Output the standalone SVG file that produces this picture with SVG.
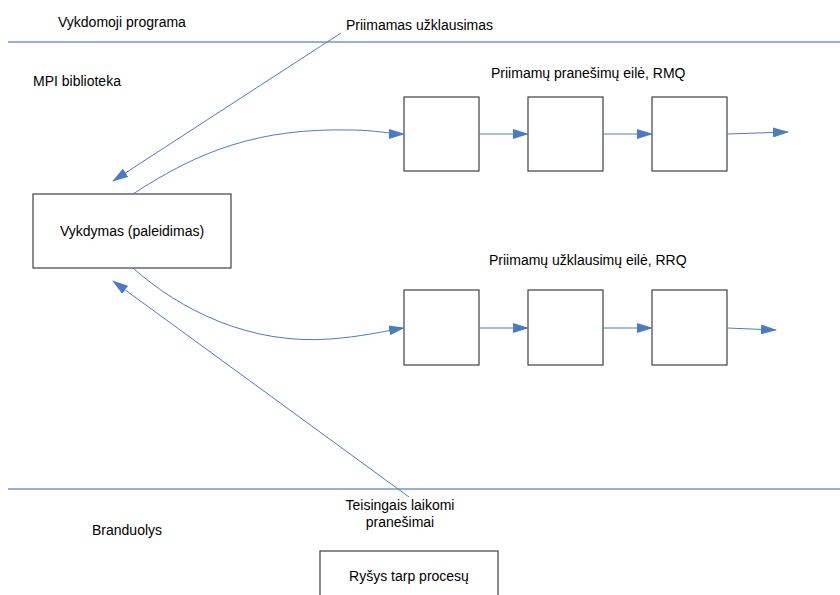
<svg xmlns="http://www.w3.org/2000/svg" width="840" height="595" viewBox="0 0 840 595">
  <style>
    text { font-family: "Liberation Sans", Arial, sans-serif; font-size: 14px; fill: #000; }
    .mid { text-anchor: middle; }
    .box { fill: #fff; stroke: #404040; stroke-width: 1.2; }
    .layer { stroke: #6f97d3; stroke-width: 1.3; fill: none; }
    .link { stroke: #4a7cc4; stroke-width: 1; fill: none; marker-end: url(#arrow); }
  </style>
  <defs>
    <marker id="arrow" viewBox="0 0 16 10" refX="15" refY="5" markerWidth="16" markerHeight="10" markerUnits="userSpaceOnUse" orient="auto">
      <path d="M0,0 L16,5 L0,10 Z" fill="#4a7cc4"/>
    </marker>
  </defs>
  <rect width="840" height="595" fill="#fff"/>

  <!-- layer separators -->
  <g id="layers">
    <line class="layer" x1="8" y1="42" x2="840" y2="42"/>
    <line class="layer" x1="8" y1="489" x2="840" y2="489"/>
  </g>

  <!-- layer and connector labels -->
  <g id="labels">
    <text x="58" y="27">Vykdomoji programa</text>
    <text x="346" y="30">Priimamas užklausimas</text>
    <text x="33" y="86">MPI biblioteka</text>
    <text x="491" y="78">Priimamų pranešimų eilė, RMQ</text>
    <text x="489" y="265">Priimamų užklausimų eilė, RRQ</text>
    <text class="mid" x="400" y="510">Teisingais laikomi</text>
    <text class="mid" x="400" y="527">pranešimai</text>
    <text x="92" y="535">Branduolys</text>
  </g>

  <g id="executor">
    <rect class="box" x="33" y="194" width="198" height="74"/>
    <text class="mid" x="132" y="236">Vykdymas (paleidimas)</text>
  </g>

  <g id="rmq">
    <rect class="box" x="404" y="97" width="75" height="74"/>
    <rect class="box" x="528" y="97" width="75" height="74"/>
    <rect class="box" x="652" y="97" width="75" height="74"/>
  </g>

  <g id="rrq">
    <rect class="box" x="404" y="290" width="75" height="75"/>
    <rect class="box" x="528" y="290" width="75" height="75"/>
    <rect class="box" x="652" y="290" width="75" height="75"/>
  </g>

  <g id="ipc">
    <rect class="box" x="320" y="551" width="178" height="50"/>
    <text class="mid" x="409" y="581">Ryšys tarp procesų</text>
  </g>

  <!-- connectors -->
  <g id="connectors">
    <line class="link" x1="341" y1="33" x2="113" y2="181"/>
    <path class="link" d="M133,194 C200,150 260,128 350,130 C375,130 390,134 404,134"/>
    <line class="link" x1="479" y1="134" x2="528" y2="134"/>
    <line class="link" x1="603" y1="134" x2="652" y2="134"/>
    <line class="link" x1="727" y1="134" x2="788" y2="132"/>

    <path class="link" d="M133,268 C180,310 250,345 330,339 C360,337 385,331 404,328"/>
    <line class="link" x1="479" y1="328" x2="528" y2="328"/>
    <line class="link" x1="603" y1="328" x2="652" y2="328"/>
    <line class="link" x1="727" y1="328" x2="776" y2="330"/>

    <line class="link" x1="409" y1="497" x2="113" y2="281"/>
  </g>
</svg>
